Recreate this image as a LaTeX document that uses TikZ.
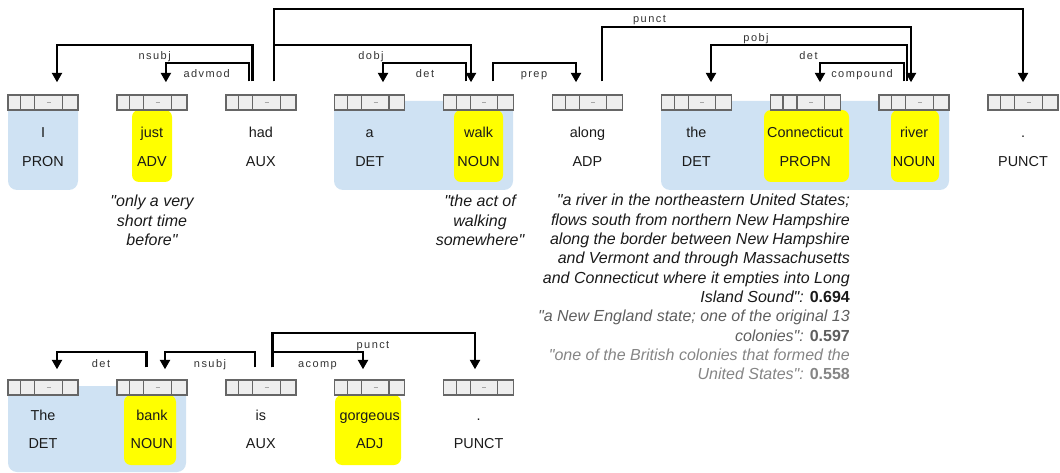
\documentclass[tikz,border=0pt]{standalone}
\usepackage{fontspec}
\setmainfont{Liberation Sans}[Ligatures=TeXOff]
\newfontfamily\labfont[LetterSpace=13]{Liberation Sans}
\usetikzlibrary{arrows.meta}

\definecolor{chunkblue}{HTML}{CFE2F3}
\definecolor{hlyellow}{HTML}{FFFF00}
\definecolor{cellfill}{HTML}{EEEEEE}
\definecolor{cellline}{HTML}{666666}
\definecolor{inkc}{HTML}{1A1A1A}
\definecolor{labc}{HTML}{333333}
\definecolor{defB}{HTML}{5E5E5E}
\definecolor{defC}{HTML}{858585}

\tikzset{
  tokbox/.style={draw=cellline, fill=cellfill, line width=1.4pt,
    minimum width=70pt, minimum height=15pt, inner sep=0pt},
  celldiv/.style={draw=cellline, line width=1.1pt},
  dashmark/.style={draw=black!35, line width=0.8pt},
  word/.style={font=\fontsize{14.4}{17}\selectfont, text=inkc, inner sep=0pt},
  deplabel/.style={font=\labfont\fontsize{11}{13}\selectfont, text=labc,
    inner sep=0pt, anchor=base},
  deparc/.style={draw=black, line width=2.5pt,
    -{Triangle[width=10pt,length=9.5pt]}},
  chunk/.style={fill=chunkblue, rounded corners=9pt},
  hilite/.style={fill=hlyellow, rounded corners=7pt},
  defn/.style={font=\fontsize{16}{19.3}\selectfont\itshape, text=inkc, inner sep=0pt},
}

% token: name, centre x, top y of the cell strip, word, part of speech
\newcommand\token[5]{%
  \node[tokbox] (#1) at (#2,#3+7.5) {};
  \draw[celldiv] ([xshift=13.5pt]#1.north west) -- ([xshift=13.5pt]#1.south west)
                 ([xshift=27.5pt]#1.north west) -- ([xshift=27.5pt]#1.south west)
                 ([xshift=55pt]#1.north west) -- ([xshift=55pt]#1.south west);
  \draw[dashmark] ([xshift=39.5pt]#1.west) -- ([xshift=43.5pt]#1.west);
  \node[word, anchor=base] (#1-w) at (#2,#3+\wordoff) {#4};
  \node[word, anchor=base] (#1-p) at (#2,#3+\posoff) {#5};
}

% dependency: head, head offset, dependent, dependent offset, level y
\newcommand\deparc[5]{%
  \draw[deparc] ([xshift=#2pt,yshift=\tailgap]#1.north) coordinate (tail)
    -- (tail |- 0,#5) -| ([xshift=#4pt,yshift=\tipgap]#3.north);
}

\begin{document}
\begin{tikzpicture}[x=1pt,y=-1pt]
\useasboundingbox (0,0) rectangle (1060,473);

% ---------- first sentence ----------
% noun chunks
\fill[chunk] (8,101) rectangle (78,190);
\fill[chunk] (334,101) rectangle (513,190);
\fill[chunk] (661,101) rectangle (949,190);
% highlighted tokens
\fill[hilite] (132,110) rectangle (172,182);
\fill[hilite] (454,110) rectangle (503,182);
\fill[hilite] (764,110) rectangle (849,182);
\fill[hilite] (891,110) rectangle (939,182);

\def\wordoff{43}\def\posoff{72}
\token{t0}{43}{95}{I}{PRON}
\token{t1}{151.9}{95}{just}{ADV}
\token{t2}{260.8}{95}{had}{AUX}
\token{t3}{369.7}{95}{a}{DET}
\token{t4}{478.6}{95}{walk}{NOUN}
\token{t5}{587.4}{95}{along}{ADP}
\token{t6}{696.3}{95}{the}{DET}
\token{t7}{805.2}{95}{Connecticut}{PROPN}
\token{t8}{914.1}{95}{river}{NOUN}
\token{t9}{1023}{95}{.}{PUNCT}

\def\tailgap{13pt}\def\tipgap{12pt}
\deparc{t2}{-11.8}{t1}{14}{63}
\deparc{t2}{-8.3}{t0}{14}{45}
\deparc{t2}{13.2}{t4}{-7.6}{45}
\deparc{t2}{13.2}{t9}{0}{9}
\deparc{t4}{-12.6}{t3}{13.3}{63}
\deparc{t4}{14.4}{t5}{-11.4}{63}
\deparc{t5}{14.6}{t8}{-3.1}{27}
\deparc{t8}{-7.1}{t6}{14.7}{45}
\deparc{t8}{-10.1}{t7}{14.8}{63}

\node[deplabel] (l-nsubj) at (154.7,60) {nsubj};
\node[deplabel] (l-advmod) at (206.7,78) {advmod};
\node[deplabel] (l-dobj) at (371,60) {dobj};
\node[deplabel] (l-det1) at (425,78) {det};
\node[deplabel] (l-prep) at (534,78) {prep};
\node[deplabel] (l-punct1) at (649.5,23) {punct};
\node[deplabel] (l-pobj) at (756,42) {pobj};
\node[deplabel] (l-det2) at (808.5,60) {det};
\node[deplabel] (l-compound) at (862,78) {compound};

% glosses
\node[defn, anchor=base] (g-just) at (152,207)
  {\begin{tabular}[t]{@{}c@{}}"only a very\\short time\\before"\end{tabular}};
\node[defn, anchor=base] (g-walk) at (480,207)
  {\begin{tabular}[t]{@{}c@{}}"the act of\\walking\\somewhere"\end{tabular}};
\node[defn, anchor=base east] (g-conn) at (850,206)
  {\begin{tabular}[t]{@{}r@{}}
   "a river in the northeastern United States;\\
   flows south from northern New Hampshire\\
   along the border between New Hampshire\\
   and Vermont and through Massachusetts\\
   and Connecticut where it empties into Long\\
   Island Sound": {\bfseries\upshape 0.694}\\
   \color{defB}"a New England state; one of the original 13\\
   \color{defB}colonies": {\bfseries\upshape 0.597}\\
   \color{defC}"one of the British colonies that formed the\\
   \color{defC}United States": {\bfseries\upshape 0.558}
   \end{tabular}};

% ---------- second sentence ----------
\fill[chunk] (8,386) rectangle (186,472);
\fill[hilite] (124,395) rectangle (176,465);
\fill[hilite] (335,395) rectangle (401,465);

\def\wordoff{40}\def\posoff{68}
\token{b0}{43}{380}{The}{DET}
\token{b1}{151.9}{380}{bank}{NOUN}
\token{b2}{260.8}{380}{is}{AUX}
\token{b3}{369.7}{380}{gorgeous}{ADJ}
\token{b4}{478.6}{380}{.}{PUNCT}

\def\tailgap{12pt}\def\tipgap{10pt}
\deparc{b1}{-5.4}{b0}{14}{352}
\deparc{b2}{-5.8}{b1}{13.1}{352}
\deparc{b2}{11.7}{b3}{-6.7}{352}
\deparc{b2}{11.7}{b4}{-3.6}{333}

\node[deplabel] (l-det3) at (101,367) {det};
\node[deplabel] (l-nsubj2) at (210,367) {nsubj};
\node[deplabel] (l-acomp) at (317.5,367) {acomp};
\node[deplabel] (l-punct2) at (373,348) {punct};
\end{tikzpicture}
\end{document}
